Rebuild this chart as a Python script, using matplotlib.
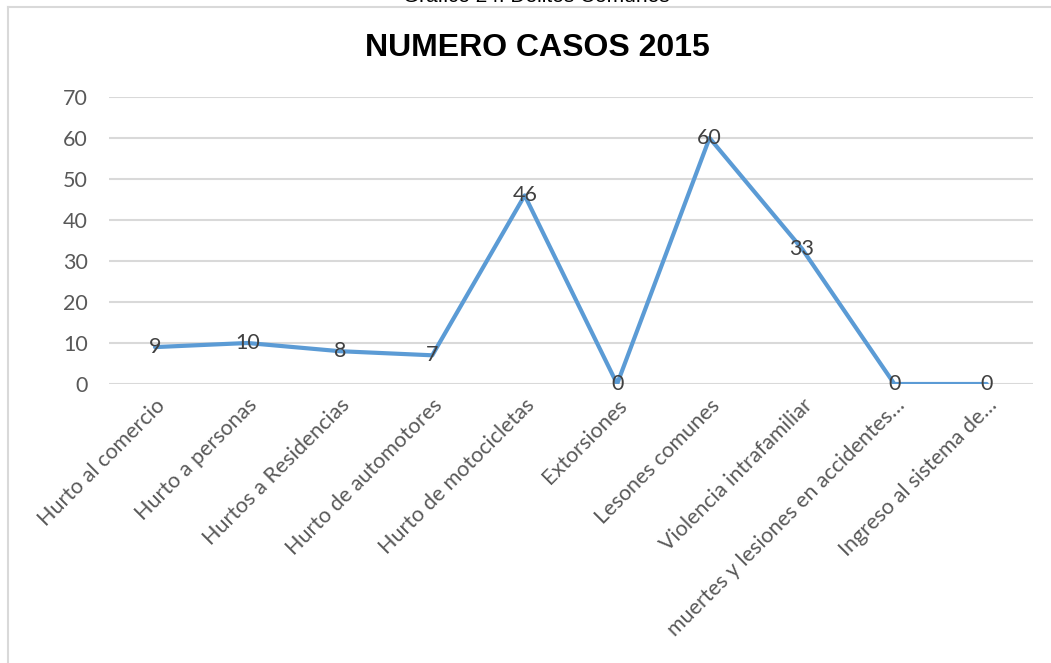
import matplotlib
matplotlib.use("Agg")
import matplotlib.pyplot as plt
from matplotlib.lines import Line2D

# Data
categories = ["Hurto al comercio", "Hurto a personas", "Hurtos a Residencias",
              "Hurto de automotores", "Hurto de motocicletas", "Extorsiones",
              "Lesones comunes", "Violencia intrafamiliar",
              "muertes y lesiones en accidentes…", "Ingreso al sistema de…"]
casos = [9, 10, 8, 7, 46, 0, 60, 33, 0, 0]
yticks = [0, 10, 20, 30, 40, 50, 60, 70]

W, H = 1051, 663
fig = plt.figure(figsize=(W / 100, H / 100), dpi=100)

# Chart box border (top + left), partially cut off like the screenshot
fig.add_artist(Line2D([8 / W, 1.0], [1 - 7 / H, 1 - 7 / H], color="#d9d9d9", lw=1.5))
fig.add_artist(Line2D([8 / W, 8 / W], [0, 1 - 7 / H], color="#d9d9d9", lw=1.5))

# Caption above the chart, clipped at the top edge as in the screenshot
fig.text(536 / W, 1 + 3 / H, "Gráfico 24. Delitos Comunes", ha="center", va="center",
         fontsize=15, family="Liberation Sans", color="black")

fig.text(537 / W, 1 - 48 / H, "NUMERO CASOS 2015", ha="center", va="center",
         fontsize=23, fontweight="bold", family="Liberation Sans", color="black")

ax = fig.add_axes([108.8 / W, (H - 384) / H, (1033 - 108.8) / W, (384 - 97) / H])
x = list(range(len(categories)))
ax.plot(x, casos, color="#5b9bd5", lw=3.0, solid_capstyle="round", zorder=3)

for xi, v in zip(x, casos):
    ax.text(xi, v, str(v), ha="center", va="center", fontsize=15.5,
            family="Lato", color="#404040", zorder=4)

ax.set_xlim(-0.5, len(categories) - 0.5)
ax.set_ylim(0, 70)
ax.set_yticks(yticks)
ax.set_xticks(x)
ax.set_xticklabels(categories, rotation=45, ha="right", rotation_mode="anchor",
                   fontsize=15.5, family="Lato", color="#595959")
ax.set_yticklabels([str(t) for t in yticks], fontsize=15.5, family="Lato", color="#595959")
ax.tick_params(axis="both", length=0)
ax.tick_params(axis="y", pad=15)
ax.tick_params(axis="x", pad=8)
ax.grid(axis="y", color="#d9d9d9", lw=1.5)
ax.set_axisbelow(True)
for s in ax.spines.values():
    s.set_visible(False)

fig.savefig("out.png", dpi=100)
